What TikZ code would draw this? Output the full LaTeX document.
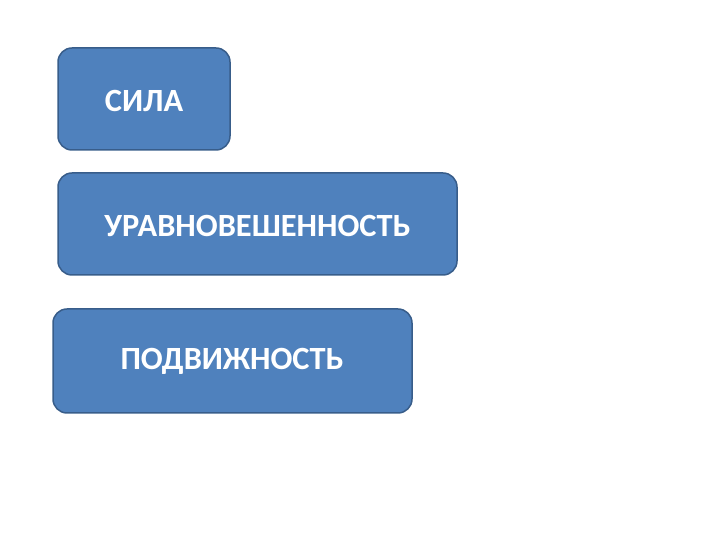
\documentclass[tikz,border=0pt]{standalone}
\usepackage{fontspec}
\setmainfont{Carlito}
\definecolor{boxfill}{HTML}{4F81BD}
\definecolor{boxline}{HTML}{385D8A}
\begin{document}
\begin{tikzpicture}[x=1pt,y=1pt,
  blockbox/.style={draw=boxline, line width=1.5pt, fill=boxfill, rounded corners=14pt},
  lbl/.style={text=white, font=\fontsize{32.4}{36}\selectfont\bfseries, inner sep=0pt}]
\useasboundingbox (0,0) rectangle (720,540);
\draw[blockbox] (58,390) rectangle (230,492);
\node[lbl] (sila) at (144,439) {СИЛА};
\draw[blockbox] (58,265) rectangle (457,367);
\node[lbl] (urav) at (257.5,314) {УРАВНОВЕШЕННОСТЬ};
\draw[blockbox] (53,127) rectangle (412,231);
\node[lbl] (podv) at (232,179) {ПОДВИЖНОСТЬ};
\end{tikzpicture}
\end{document}
